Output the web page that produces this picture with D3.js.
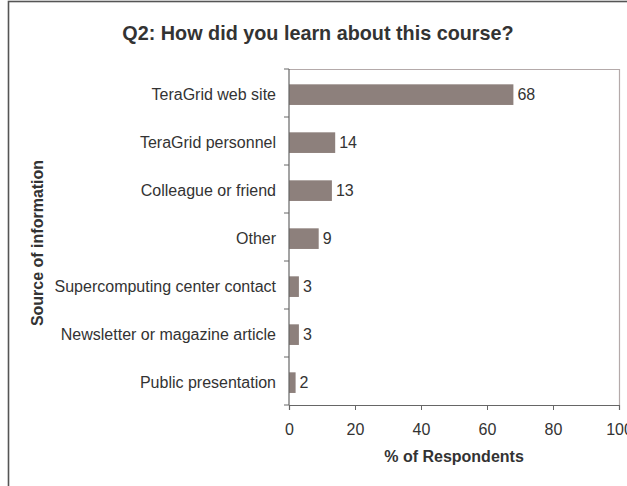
<!DOCTYPE html>
<html>
<head>
<meta charset="utf-8">
<script src="https://cdn.jsdelivr.net/npm/d3@7"></script>
<style>
  body { margin: 0; background: #fff; }
  svg { display: block; font-family: "Liberation Sans", Arial, sans-serif; }
</style>
</head>
<body>
<div id="chart"></div>
<script>
var categories = ["TeraGrid web site", "TeraGrid personnel", "Colleague or friend", "Other",
                  "Supercomputing center contact", "Newsletter or magazine article", "Public presentation"];
var values = [68, 14, 13, 9, 3, 3, 2];
var xTicks = [0, 20, 40, 60, 80, 100];

var width = 627, height = 486;
var plotLeft = 289, plotRight = 619, plotTop = 69, plotBottom = 405;

var svg = d3.select("#chart").append("svg")
    .attr("width", width)
    .attr("height", height);

// outer frame (runs off the right and bottom edge)
svg.append("rect")
    .attr("x", 8.5).attr("y", 1.5)
    .attr("width", 700).attr("height", 600)
    .attr("fill", "none")
    .attr("stroke", "#555")
    .attr("stroke-width", 1.6);

var x = d3.scaleLinear().domain([0, 100]).range([plotLeft, plotRight]);
var y = d3.scaleBand().domain(categories).range([plotTop, plotBottom])
    .paddingInner(0.57).paddingOuter(0.285).align(0.56);

// plot area top/right border
svg.append("path")
    .attr("d", `M${plotLeft},${plotTop + 0.5}H${plotRight + 0.5}V${plotBottom}`)
    .attr("fill", "none")
    .attr("stroke", "#b4aaaa")
    .attr("stroke-width", 1.2);

svg.append("text")
    .attr("x", 318).attr("y", 40)
    .attr("text-anchor", "middle")
    .attr("font-size", 19.8)
    .attr("font-weight", "bold")
    .attr("fill", "#333")
    .text("Q2: How did you learn about this course?");

svg.selectAll("rect.bar")
    .data(values)
    .join("rect")
      .attr("class", "bar")
      .attr("x", x(0))
      .attr("y", (d, i) => y(categories[i]))
      .attr("width", d => x(d) - x(0))
      .attr("height", y.bandwidth())
      .attr("fill", "#8d807c");

svg.selectAll("text.val")
    .data(values)
    .join("text")
      .attr("class", "val")
      .attr("x", d => x(d) + 4)
      .attr("y", (d, i) => y(categories[i]) + y.bandwidth() / 2)
      .attr("dy", "0.36em")
      .attr("font-size", 16)
      .attr("fill", "#333")
      .text(d => d);

svg.selectAll("text.cat")
    .data(categories)
    .join("text")
      .attr("class", "cat")
      .attr("x", plotLeft - 13)
      .attr("y", d => y(d) + y.bandwidth() / 2)
      .attr("dy", "0.36em")
      .attr("text-anchor", "end")
      .attr("font-size", 16)
      .attr("fill", "#333")
      .text(d => d);

// y axis line with ticks at category boundaries
var step = (plotBottom - plotTop) / categories.length;
svg.append("line")
    .attr("x1", plotLeft).attr("x2", plotLeft)
    .attr("y1", plotTop).attr("y2", plotBottom)
    .attr("stroke", "#666").attr("stroke-width", 1.2);
svg.selectAll("line.ytick")
    .data(d3.range(categories.length + 1))
    .join("line")
      .attr("class", "ytick")
      .attr("x1", plotLeft - 5).attr("x2", plotLeft)
      .attr("y1", i => plotTop + i * step).attr("y2", i => plotTop + i * step)
      .attr("stroke", "#666");

var xAxis = svg.append("g")
    .attr("transform", `translate(0,${plotBottom})`)
    .call(d3.axisBottom(x).tickValues(xTicks).tickSize(5).tickPadding(14));
xAxis.select(".domain").attr("stroke", "#666").attr("stroke-width", 1.2);
xAxis.selectAll(".tick line").attr("stroke", "#666");
xAxis.selectAll(".tick text")
    .attr("font-size", 16)
    .attr("fill", "#333")
    .attr("font-family", "Liberation Sans, Arial, sans-serif");

svg.append("text")
    .attr("x", 454).attr("y", 462)
    .attr("text-anchor", "middle")
    .attr("font-size", 16)
    .attr("font-weight", "bold")
    .attr("fill", "#333")
    .text("% of Respondents");

svg.append("text")
    .attr("transform", "translate(43,243) rotate(-90)")
    .attr("text-anchor", "middle")
    .attr("font-size", 16)
    .attr("font-weight", "bold")
    .attr("fill", "#333")
    .text("Source of information");
</script>
</body>
</html>
